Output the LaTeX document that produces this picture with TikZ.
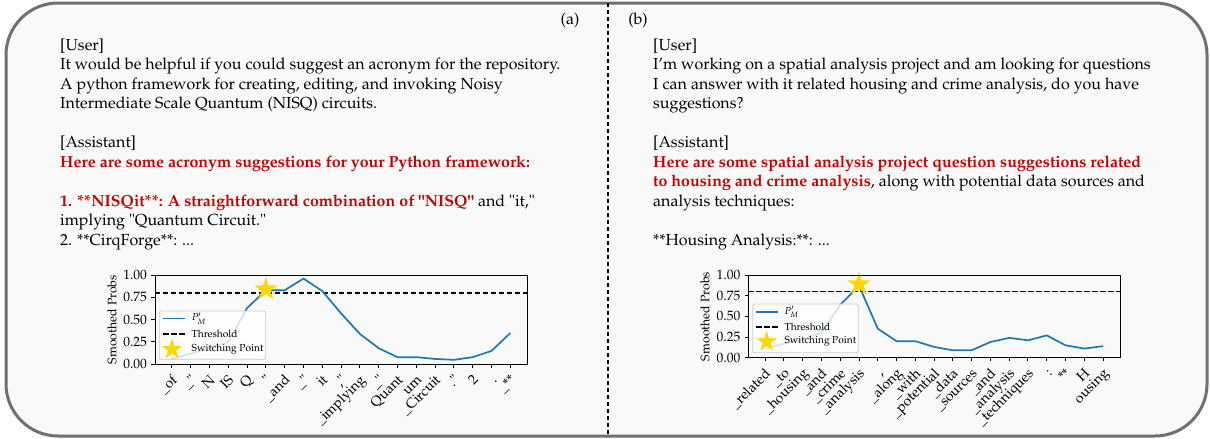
\documentclass[tikz,border=0pt]{standalone}
\usepackage[T1]{fontenc}
\usepackage{mathpazo}
\usepackage{tikz}
\usetikzlibrary{shapes.geometric}

\definecolor{boxgray}{RGB}{112,112,112}
\definecolor{boxfill}{RGB}{249,249,249}
\definecolor{answerred}{RGB}{200,0,0}
\definecolor{mplblue}{RGB}{31,119,180}
\definecolor{stargold}{RGB}{255,215,0}

\tikzset{
  body/.style={anchor=north west, align=left, inner sep=0pt, font=\fontsize{16}{19.5}\selectfont},
  tagtext/.style={font=\fontsize{16}{18}\selectfont, inner sep=0pt},
  ticklab/.style={font=\fontsize{13.5}{14}\selectfont},
  xlab/.style={font=\fontsize{14}{15}\selectfont, anchor=north east, rotate=45, inner sep=0.5pt,
    text height=9.5pt, text depth=3pt, xshift=-4pt, yshift=-3pt},
  ylab/.style={ticklab, anchor=east, inner sep=0pt, xshift=-4pt},
  axlab/.style={font=\fontsize{12.3}{13}\selectfont, rotate=90, inner sep=0pt},
  leglab/.style={font=\fontsize{10.2}{11}\selectfont, anchor=west, inner sep=0pt},
  probline/.style={mplblue, line width=1.7pt, line join=round},
  thresh/.style={black, line width=1.7pt, dash pattern=on 5.5pt off 2.5pt},
  switchstar/.style={star, star points=5, star point ratio=2.6, fill=stargold, draw=stargold, minimum size=23pt, inner sep=0pt},
  legbox/.style={draw=black!20, fill=white, fill opacity=0.8, rounded corners=2pt, line width=0.8pt},
  frame/.style={black, line width=1pt},
}
\newcommand{\ans}[1]{\textcolor{answerred}{\textbf{#1}}}

\begin{document}
\begin{tikzpicture}[x=1pt, y=-1pt]
    \useasboundingbox (0,0) rectangle (1210,439);

    % Outer panel and divider
    \draw[boxgray, line width=3pt, fill=boxfill, rounded corners=52pt] (6,3) rectangle (1207,436);
    \draw[black, line width=1.2pt, dash pattern=on 4pt off 3pt] (608,3) -- (608,436);
    \node[tagtext] (taga) at (570,20) {(a)};
    \node[tagtext] (tagb) at (638,20) {(b)};

    % Panel (a) text
    \node[body] (usera) at (60,38.5) {[User]\\
It would be helpful if you could suggest an acronym for the repository.\\
A python framework for creating, editing, and invoking Noisy\\
Intermediate Scale Quantum (NISQ) circuits.};
    \node[body] (assta) at (60,136) {[Assistant]\\
\ans{Here are some acronym suggestions for your Python framework:}\\[19.5pt]
\ans{1. **NISQit**: A straightforward combination of "NISQ"} and "it,"\\
implying "Quantum Circuit."\\
2. **CirqForge**: ...};

    % Panel (b) text
    \node[body] (userb) at (653,38.5) {[User]\\
I'm working on a spatial analysis project and am looking for questions\\
I can answer with it related housing and crime analysis, do you have\\
suggestions?};
    \node[body] (asstb) at (653,136) {[Assistant]\\
\ans{Here are some spatial analysis project question suggestions related}\\
\ans{to housing and crime analysis}, along with potential data sources and\\
analysis techniques:\\[19.5pt]
**Housing Analysis:**: ...};

    % Chart (a)
    \begin{scope}[shift={(171.9,364.3)}, x=18.8pt, y=89.3pt]
        \draw[thresh] (-0.9,0.8) -- (18.9,0.8);
        \draw[probline] plot coordinates {(0,0.06) (1,0.12) (2,0.18) (3,0.25) (4,0.63) (5,0.83) (6,0.83) (7,0.96) (8,0.82) (9,0.57) (10,0.34) (11,0.18) (12,0.08) (13,0.08) (14,0.06) (15,0.05) (16,0.08) (17,0.15) (18,0.35)};
        \node[switchstar] (stara) at (5,0.84) {};
        \foreach \v in {0.00,0.25,0.50,0.75,1.00}
            \draw[frame] (-0.9,\v) -- ++(-3.5pt,0pt) node[ylab] (ya\v) {\v};
        \foreach \lab [count=\i from 0] in {{\_of},{\_"},N,IS,Q,",{\_and},{\_"},it,{,"},{\_implying},{\_"},Quant,um,{\_Circuit},{."},2,.,{\_**}}
            \draw[frame] (\i,0) -- ++(0pt,-3.5pt) node[xlab] (xa\i) {\lab};
    \end{scope}
    \node[axlab] (yla) at (112,319.6) {Smoothed Probs};
    % legend (a)
    \draw[legbox] (159.3,311) rectangle (265.7,359.3);
    \draw[probline] (163,318.5) -- (185,318.5);
    \node[leglab] (pma) at (191.5,318.5) {$P'_M$};
    \draw[thresh] (163,334) -- (185,334);
    \node[leglab] (tha) at (191.5,334) {Threshold};
    \node[switchstar, minimum size=20pt] (lsa) at (172,349.3) {};
    \node[leglab] (spa) at (191.5,349.3) {Switching Point};
    \draw[frame] (155,275) rectangle (527.3,364.3);

    % Chart (b)
    \begin{scope}[shift={(765.2,357.7)}, x=18.77pt, y=82.7pt]
        \draw[thresh] (-0.9,0.8) -- (18.9,0.8);
        \draw[probline] plot coordinates {(0,0.11) (1,0.17) (2,0.22) (3,0.30) (4,0.64) (5,0.87) (6,0.35) (7,0.20) (8,0.20) (9,0.13) (10,0.09) (11,0.09) (12,0.19) (13,0.24) (14,0.21) (15,0.27) (16,0.15) (17,0.11) (18,0.14)};
        \node[switchstar] (starb) at (5,0.89) {};
        \foreach \v in {0.00,0.25,0.50,0.75,1.00}
            \draw[frame] (-0.9,\v) -- ++(-3.5pt,0pt) node[ylab] (yb\v) {\v};
        \foreach \lab [count=\i from 0] in {{\_related},{\_to},{\_housing},{\_and},{\_crime},{\_analysis},{,},{\_along},{\_with},{\_potential},{\_data},{\_sources},{\_and},{\_analysis},{\_techniques},:,**,H,ousing}
            \draw[frame] (\i,0) -- ++(0pt,-3.5pt) node[xlab] (xb\i) {\lab};
    \end{scope}
    \node[axlab] (ylb) at (705,316.4) {Smoothed Probs};
    % legend (b)
    \draw[legbox] (752.7,304) rectangle (858.3,352.7);
    \draw[probline] (756,311.7) -- (777.5,311.7);
    \node[leglab] (pmb) at (784.3,311.7) {$P'_M$};
    \draw[thresh] (756,326.7) -- (777.5,326.7);
    \node[leglab] (thb) at (784.3,326.7) {Threshold};
    \node[switchstar, minimum size=20pt] (lsb) at (766.7,341.7) {};
    \node[leglab] (spb) at (784.3,341.7) {Switching Point};
    \draw[frame] (748.3,275) rectangle (1120,357.7);
\end{tikzpicture}
\end{document}
